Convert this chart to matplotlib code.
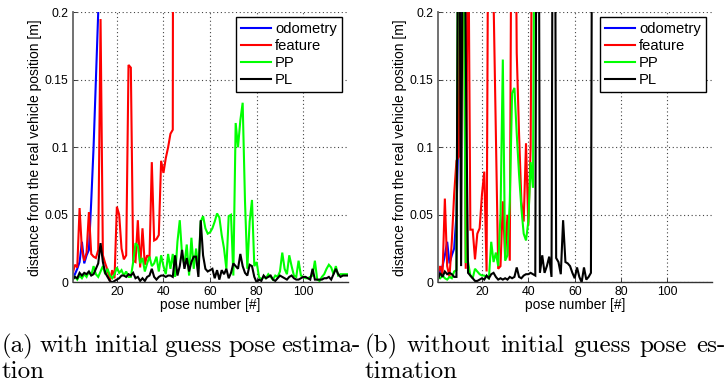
import numpy as np
import matplotlib
matplotlib.use("Agg")
import matplotlib.pyplot as plt

plt.rcParams['font.family'] = ['Liberation Sans', 'DejaVu Sans']

# ---------------- data: panel (a), with initial guess ----------------
a_odometry = [0.002, 0.006, 0.010, 0.015, 0.030, 0.014, 0.020, 0.024, 0.060, 0.100,
              0.150, 0.200, 0.260]
a_feature = [0.006, 0.013, 0.011, 0.055, 0.024, 0.016, 0.022, 0.052, 0.021, 0.019,
             0.018, 0.024, 0.195, 0.020, 0.014, 0.009, 0.001, 0.009, 0.003, 0.056,
             0.050, 0.025, 0.017, 0.020, 0.161, 0.159, 0.016, 0.015, 0.046, 0.011,
             0.040, 0.013, 0.020, 0.018, 0.089, 0.031, 0.032, 0.035, 0.090, 0.081,
             0.092, 0.100, 0.110, 0.113, 1.500]
a_pp = [0.002, 0.004, 0.002, 0.005, 0.003, 0.006, 0.004, 0.008, 0.005, 0.012,
        0.006, 0.004, 0.008, 0.012, 0.006, 0.010, 0.005, 0.003, 0.006, 0.011,
        0.007, 0.009, 0.005, 0.008, 0.004, 0.004, 0.015, 0.029, 0.027, 0.014,
        0.018, 0.008, 0.014, 0.019, 0.012, 0.014, 0.019, 0.008, 0.020, 0.012,
        0.006, 0.021, 0.010, 0.021, 0.004, 0.030, 0.046, 0.020, 0.013, 0.028,
        0.005, 0.033, 0.010, 0.025, 0.010, 0.045, 0.049, 0.040, 0.036, 0.037,
        0.040, 0.045, 0.051, 0.048, 0.035, 0.025, 0.010, 0.049, 0.050, 0.005,
        0.118, 0.100, 0.120, 0.133, 0.060, 0.010, 0.045, 0.061, 0.012, 0.015,
        0.004, 0.002, 0.004, 0.003, 0.006, 0.004, 0.002, 0.005, 0.004, 0.008,
        0.022, 0.010, 0.006, 0.020, 0.012, 0.005, 0.004, 0.016, 0.005, 0.004,
        0.003, 0.003, 0.004, 0.005, 0.016, 0.002, 0.001, 0.004, 0.006, 0.010,
        0.013, 0.011, 0.006, 0.012, 0.005, 0.006, 0.006, 0.006, 0.006]
a_pl = [0.002, 0.004, 0.003, 0.007, 0.005, 0.007, 0.006, 0.008, 0.005, 0.006,
        0.010, 0.014, 0.029, 0.015, 0.007, 0.004, 0.001, 0.000, 0.001, 0.002,
        0.003, 0.005, 0.005, 0.004, 0.006, 0.005, 0.007, 0.003, 0.004, 0.001,
        0.003, 0.001, 0.004, 0.005, 0.010, 0.004, 0.002, 0.004, 0.005, 0.005,
        0.004, 0.005, 0.005, 0.004, 0.020, 0.005, 0.012, 0.024, 0.010, 0.018,
        0.008, 0.015, 0.019, 0.019, 0.004, 0.046, 0.020, 0.010, 0.008, 0.009,
        0.010, 0.003, 0.009, 0.002, 0.009, 0.006, 0.010, 0.003, 0.007, 0.014,
        0.012, 0.010, 0.021, 0.012, 0.007, 0.005, 0.013, 0.012, 0.004, 0.000,
        0.002, 0.001, 0.005, 0.003, 0.004, 0.005, 0.002, 0.001, 0.003, 0.005,
        0.004, 0.003, 0.002, 0.004, 0.005, 0.003, 0.002, 0.002, 0.003, 0.004,
        0.004, 0.003, 0.002, 0.010, 0.002, 0.002, 0.002, 0.002, 0.003, 0.003,
        0.004, 0.002, 0.006, 0.010, 0.006, 0.004, 0.005, 0.005, 0.005]

# ---------------- data: panel (b), without initial guess ----------------
b_odometry = [0.004, 0.009, 0.012, 0.020, 0.030, 0.014, 0.020, 0.025, 0.050, 0.120,
              0.180, 0.300]
b_feature = [0.007, 0.012, 0.006, 0.062, 0.012, 0.004, 0.030, 0.065, 0.090, 0.093,
             0.400, 0.300, 0.010, 0.300, 0.039, 0.039, 0.017, 0.036, 0.040, 0.065,
             0.082, 0.008, 0.400, 0.400, 0.210, 0.110, 0.010, 0.012, 0.060, 0.018,
             0.050, 0.016, 0.400, 0.400, 0.170, 0.110, 0.060, 0.045, 0.103, 0.042,
             0.100, 0.400]
b_pp = [0.004, 0.003, 0.005, 0.003, 0.002, 0.004, 0.003, 0.008, 0.009, 0.400,
        0.300, 0.300, 0.015, 0.015, 0.005, 0.003, 0.010, 0.008, 0.006, 0.005,
        0.005, 0.004, 0.003, 0.030, 0.015, 0.022, 0.012, 0.050, 0.165, 0.016,
        0.020, 0.060, 0.140, 0.144, 0.110, 0.080, 0.055, 0.036, 0.031, 0.045,
        0.089, 0.070, 0.400]
b_pl = [0.002, 0.007, 0.004, 0.008, 0.006, 0.007, 0.006, 0.004, 0.004, 0.400,
        0.012, 0.400, 0.172, 0.007, 0.005, 0.003, 0.001, 0.001, 0.002, 0.003,
        0.002, 0.005, 0.003, 0.006, 0.007, 0.004, 0.002, 0.003, 0.002, 0.003,
        0.002, 0.004, 0.003, 0.004, 0.011, 0.004, 0.003, 0.005, 0.006, 0.006,
        0.007, 0.006, 0.005, 0.600, 0.007, 0.020, 0.007, 0.012, 0.019, 0.004,
        0.600, 0.018, 0.015, 0.006, 0.046, 0.015, 0.014, 0.012, 0.007, 0.003,
        0.011, 0.004, 0.000, 0.011, 0.002, 0.004, 0.007, 0.600]

series_names = ['odometry', 'feature', 'PP', 'PL']
series_colors = ['#0000ff', '#ff0000', '#00ff00', '#000000']
x_ticks = [20, 40, 60, 80, 100]
y_ticks = [0, 0.05, 0.1, 0.15, 0.2]
y_tick_labels = ['0', '0.05', '0.1', '0.15', '0.2']

caption_a = ["(a) with initial guess pose estima-", "tion"]
caption_b = ["(b) without initial guess pose es-", "timation"]

W, H = 727, 392
fig = plt.figure(figsize=(W / 100, H / 100), dpi=100)


def px_axes(x0, x1, ytop, ybot):
    return fig.add_axes([x0 / W, (H - ybot) / H, (x1 - x0) / W, (ybot - ytop) / H])


def draw_panel(ax, data):
    for vals, name, col in zip(data, series_names, series_colors):
        xs = np.arange(1, len(vals) + 1)
        ax.plot(xs, vals, color=col, lw=1.5, label=name, solid_joinstyle='miter')
    ax.set_xlim(1, 119)
    ax.set_ylim(0, 0.2)
    ax.set_xticks(x_ticks)
    ax.set_yticks(y_ticks)
    ax.set_yticklabels(y_tick_labels)
    ax.tick_params(labelsize=8.8, direction='in', length=3, width=0.6,
                   colors='#222222', labelcolor='black', pad=3)
    ax.grid(True, linestyle=(0, (1, 2.4)), color='#444444', lw=0.8)
    for s in ('top', 'right'):
        ax.spines[s].set_visible(False)
    ax.spines['left'].set_color('#666666')
    ax.spines['left'].set_linewidth(1.3)
    ax.spines['bottom'].set_color('#333333')
    ax.spines['bottom'].set_linewidth(1.0)
    ax.set_xlabel('pose number [#]', fontsize=10, labelpad=0)
    ax.set_ylabel('distance from the real vehicle position [m]', fontsize=10, labelpad=2)
    leg = ax.legend(loc='upper right', bbox_to_anchor=(0.98, 0.982), borderaxespad=0,
                    fontsize=10.6, fancybox=False, framealpha=1, edgecolor='black',
                    handlelength=2.0, handletextpad=0.3, borderpad=0.35,
                    labelspacing=0.2)
    leg.get_frame().set_linewidth(1.0)


ax_a = px_axes(72.6, 347.5, 12.3, 282.3)
draw_panel(ax_a, [a_odometry, a_feature, a_pp, a_pl])
ax_b = px_axes(437.9, 711.5, 12.3, 282.3)
draw_panel(ax_b, [b_odometry, b_feature, b_pp, b_pl])

# Justified sub-figure captions, set word by word
renderer = fig.canvas.get_renderer()
cap_font = dict(fontfamily='cmr10', fontsize=18, color='black')


def justified_line(text, x0, x1, y, justify=True):
    words = text.split(' ')
    objs = [fig.text(x0 / W, 1 - y / H, w, va='baseline', ha='left', **cap_font)
            for w in words]
    widths = [o.get_window_extent(renderer).width for o in objs]
    if justify and len(words) > 1:
        gap = (x1 - x0 - sum(widths)) / (len(words) - 1)
    else:
        gap = 5.0
    x = x0
    for o, w in zip(objs, widths):
        o.set_x(x / W)
        x += w + gap


justified_line(caption_a[0], 2, 361, 352)
justified_line(caption_a[1], 2, 361, 378, justify=False)
justified_line(caption_b[0], 365, 725, 352)
justified_line(caption_b[1], 365, 725, 378, justify=False)

fig.savefig('out.png', dpi=100)
